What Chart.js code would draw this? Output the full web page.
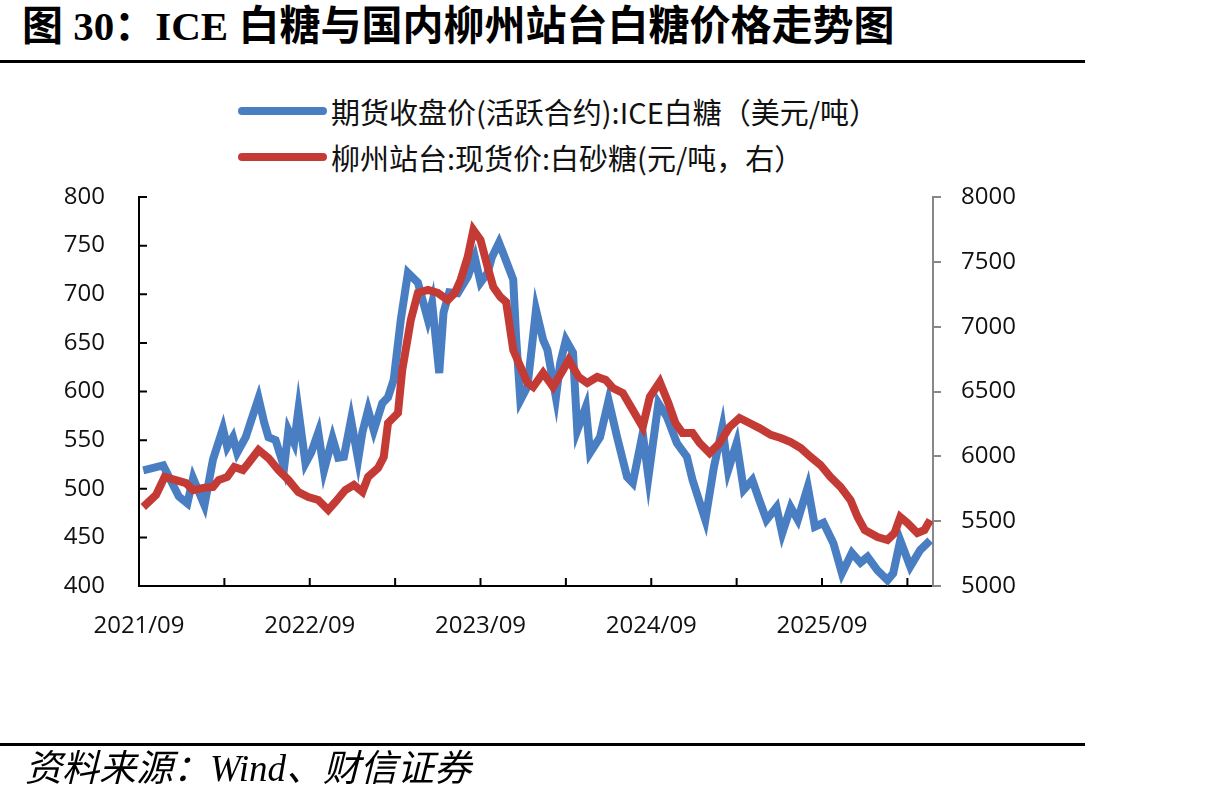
<!DOCTYPE html>
<html lang="zh-CN">
<head>
<meta charset="UTF-8">
<title>ICE 白糖与国内柳州站台白糖价格走势图</title>
<script src="https://cdn.jsdelivr.net/npm/chart.js"></script>
<style>
    html, body { margin: 0; padding: 0; background: #fff; }
    body { width: 1217px; height: 803px; position: relative; overflow: hidden; font-family: "Noto Sans CJK SC", sans-serif; }
    .title { position: absolute; left: 22px; top: 1px; font: bold 41px/50px "Liberation Serif", "Noto Sans CJK SC", serif; color: #000; white-space: nowrap; }
    .rule { position: absolute; left: 0; width: 1085px; height: 3px; background: #000; }
    .source { position: absolute; left: 25px; top: 746px; font: italic 37px/46px "Liberation Serif", "Noto Sans CJK SC", serif; color: #000; white-space: nowrap; }
    #legend { position: absolute; left: 238px; top: 88px; }
    .leg-item { height: 46px; display: flex; align-items: center; font-size: 29px; color: #111; white-space: nowrap; }
    .leg-line { width: 89px; height: 8px; border-radius: 4px; margin-right: 4px; }
    .chart-box { position: absolute; left: 0; top: 0; width: 1217px; height: 803px; }
</style>
</head>
<body>
<div class="title">图 30：ICE 白糖与国内柳州站台白糖价格走势图</div>
<div class="rule" style="top:60px"></div>
<div id="legend"></div>
<div class="chart-box"><canvas id="sugarChart" width="1217" height="803"></canvas></div>
<div class="rule" style="top:743px"></div>
<div class="source">资料来源：Wind、财信证券</div>
<script>
    // x = months since 2021/09
    const iceX = [0.3, 1.7, 2.8, 3.4, 3.8, 4.6, 5.2, 5.9, 6.2, 6.6, 6.9, 7.5, 7.9, 8.4, 8.8, 9.1, 9.6, 10.2, 10.5, 10.9,
        11.2, 11.7, 12.1, 12.6, 13.0, 13.6, 14.0, 14.4, 14.9, 15.4, 15.7, 16.1, 16.5, 17.1, 17.5, 17.9, 18.4, 18.9, 19.6, 20.3,
        20.6, 21.1, 21.4, 21.8, 22.4, 23.1, 23.6, 24.0, 24.5, 24.8, 25.3, 25.6, 26.3, 26.5, 26.8, 27.3, 27.9, 28.4, 28.7, 29.3,
        29.6, 30.0, 30.5, 30.8, 31.4, 31.7, 32.4, 33.0, 33.6, 34.3, 34.7, 35.4, 35.8, 36.5, 37.1, 37.8, 38.5, 38.9, 39.8, 40.4,
        41.0, 41.4, 42.0, 42.5, 43.1, 43.6, 44.1, 44.8, 45.2, 45.8, 46.3, 47.0, 47.5, 48.1, 48.8, 49.4, 50.1, 50.7, 51.2, 51.9,
        52.6, 53.0, 53.5, 54.2, 54.9, 55.6];
    const iceY = [519, 524, 492, 485, 511, 483, 530, 562, 543, 553, 537, 553, 571, 593, 568, 553, 550, 522, 560, 547,
        581, 526, 537, 558, 519, 552, 532, 533, 571, 530, 558, 581, 560, 588, 594, 612, 674, 722, 712, 674,
        691, 619, 681, 702, 701, 718, 738, 712, 722, 738, 753, 742, 715, 656, 591, 605, 684, 653, 643, 594,
        629, 653, 640, 560, 584, 537, 553, 591, 553, 512, 506, 557, 512, 588, 574, 547, 533, 509, 468, 522,
        563, 519, 547, 499, 509, 488, 468, 481, 454, 481, 468, 502, 461, 465, 444, 413, 434, 424, 430, 416,
        406, 413, 447, 420, 437, 447];

    const lzX = [0.3, 1.2, 1.8, 2.6, 3.3, 3.8, 4.5, 5.2, 5.6, 6.2, 6.7, 7.3, 7.7, 8.4, 9.1, 9.8, 10.5, 11.2, 11.9, 12.6,
        13.3, 13.8, 14.5, 15.1, 15.7, 16.1, 16.8, 17.2, 17.5, 18.2, 18.5, 19.1, 19.6, 20.3, 21.0, 21.7, 22.2, 22.6, 23.1, 23.5,
        24.0, 24.5, 24.9, 25.4, 25.8, 26.3, 27.3, 27.7, 28.4, 29.1, 29.8, 30.2, 30.9, 31.5, 32.2, 32.8, 33.3, 34.0, 34.7, 35.4,
        35.9, 36.6, 37.2, 37.7, 38.2, 38.9, 39.4, 40.1, 40.8, 41.5, 42.2, 42.9, 43.6, 44.4, 45.1, 45.8, 46.5, 47.2, 47.9, 48.6,
        49.3, 50.0, 50.5, 51.0, 51.9, 52.6, 53.1, 53.5, 54.0, 54.7, 55.2, 55.6];
    const lzY = [5609, 5702, 5841, 5817, 5794, 5740, 5756, 5764, 5817, 5841, 5918, 5895, 5949, 6049, 5987, 5895, 5817, 5725, 5686, 5663,
        5586, 5648, 5740, 5779, 5725, 5841, 5910, 5995, 6257, 6334, 6666, 7051, 7260, 7283, 7260, 7206, 7260, 7360, 7537, 7745,
        7668, 7460, 7306, 7229, 7190, 6820, 6566, 6535, 6643, 6535, 6666, 6743, 6612, 6566, 6612, 6589, 6527, 6488, 6357, 6226,
        6458, 6573, 6411, 6257, 6180, 6180, 6103, 6026, 6103, 6226, 6296, 6257, 6218, 6165, 6141, 6110, 6064, 5995, 5933, 5841,
        5764, 5663, 5532, 5432, 5378, 5355, 5409, 5532, 5486, 5409, 5432, 5509];

    const xTickValues = [0, 6, 12, 18, 24, 30, 36, 42, 48, 54];
    const xTickLabels = ['2021/09', '2022/09', '2023/09', '2024/09', '2025/09'];

    const seriesNames = ['期货收盘价(活跃合约):ICE白糖（美元/吨）', '柳州站台:现货价:白砂糖(元/吨，右）'];
    const seriesColors = ['#4a7ec2', '#c43b36'];

    const tickFont = { family: 'Open Sans', size: 24 };

    // inward tick marks on left and bottom axes
    const innerTicks = {
        id: 'innerTicks',
        afterDraw(chart) {
            const ctx = chart.ctx;
            const x = chart.scales.x, y = chart.scales.y;
            ctx.save();
            ctx.strokeStyle = '#000';
            ctx.lineWidth = 2;
            ctx.beginPath();
            y.ticks.forEach(t => {
                const py = y.getPixelForValue(t.value);
                ctx.moveTo(x.left, py);
                ctx.lineTo(x.left + 8, py);
            });
            xTickValues.forEach(v => {
                const px = x.getPixelForValue(v);
                ctx.moveTo(px, y.bottom);
                ctx.lineTo(px, y.bottom - 8);
            });
            ctx.stroke();
            ctx.restore();
        }
    };

    const legendEl = document.getElementById('legend');
    seriesNames.forEach((name, i) => {
        const item = document.createElement('div');
        item.className = 'leg-item';
        item.innerHTML = '<span class="leg-line" style="background:' + seriesColors[i] + '"></span><span>' + name + '</span>';
        legendEl.appendChild(item);
    });

    new Chart(document.getElementById('sugarChart'), {
        type: 'line',
        data: {
            datasets: [{
                label: seriesNames[0],
                data: iceX.map((v, i) => ({ x: v, y: iceY[i] })),
                borderColor: seriesColors[0],
                borderWidth: 8,
                pointRadius: 0,
                yAxisID: 'y',
                order: 1
            }, {
                label: seriesNames[1],
                data: lzX.map((v, i) => ({ x: v, y: lzY[i] })),
                borderColor: seriesColors[1],
                borderWidth: 8,
                pointRadius: 0,
                yAxisID: 'y1',
                order: 0
            }]
        },
        options: {
            responsive: false,
            animation: false,
            devicePixelRatio: 1,
            layout: { padding: { top: 197, left: 0, right: 0, bottom: 0 } },
            plugins: { legend: { display: false }, tooltip: { enabled: false } },
            scales: {
                x: {
                    type: 'linear',
                    min: 0,
                    max: 55.8,
                    afterBuildTicks: s => { s.ticks = xTickValues.map(v => ({ value: v })); },
                    afterFit: s => { s.height = 217; },
                    grid: { display: false },
                    border: { color: '#000', width: 2 },
                    ticks: {
                        autoSkip: false,
                        maxRotation: 0,
                        padding: 18,
                        color: '#111',
                        font: tickFont,
                        callback: v => (v % 12 === 0 ? xTickLabels[v / 12] : '')
                    }
                },
                y: {
                    position: 'left',
                    min: 400,
                    max: 800,
                    afterFit: s => { s.width = 139; },
                    grid: { display: false },
                    border: { color: '#000', width: 2 },
                    ticks: { stepSize: 50, padding: 26, color: '#111', font: tickFont }
                },
                y1: {
                    position: 'right',
                    min: 5000,
                    max: 8000,
                    afterFit: s => { s.width = 1217 - 933; },
                    grid: { drawOnChartArea: false, drawTicks: true, tickLength: 8, color: '#888', lineWidth: 2 },
                    border: { color: '#888', width: 2 },
                    ticks: { stepSize: 500, padding: 20, color: '#111', font: tickFont, callback: v => String(v) }
                }
            }
        },
        plugins: [innerTicks]
    });
</script>
</body>
</html>
